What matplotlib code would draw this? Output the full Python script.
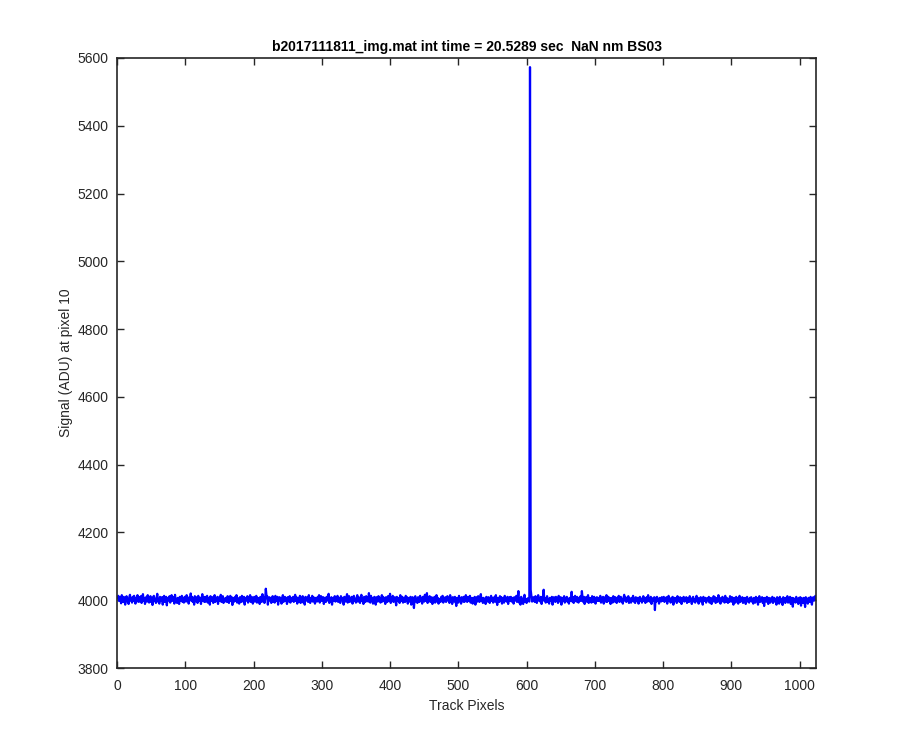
import numpy as np
import matplotlib
matplotlib.use("Agg")
import matplotlib.pyplot as plt

plt.rcParams['font.family'] = ['Liberation Sans', 'DejaVu Sans']

baseline = 4001
offsets_txt = """
5 12 -3 8 2 -10 14 3 -6 9 0 -14 6 11 -5 3 -12 8 15 -2 5 -8 9 -3 12 2 -11 6 -5 14 3 -6
8 -2 11 -9 5 17 -3 6 -12 2 9 -5 14 0 -8 3 11 -6 5 -15 8 12 -2 3 -9 6 18 -5 2 -11 9 0
-3 8 -14 5 12 -6 2 9 -16 3 6 -2 11 -8 5 14 -3 0 8 -11 15 -5 3 -9 6 2 -12 9 5 -3 12 -6
2 -8 9 3 -5 14 -2 6 -11 8 0 19 -3 9 -6 5 -14 11 2 -5 8 -9 12 3 -2 6 -12 5 17 -3 8 -6
9 -5 3 12 -8 2 6 -14 11 0 -3 8 -9 5 14 -6 3 -2 9 -12 5 8 -3 15 -6 2 11 -9 3 -5 6 0
-6 11 2 -9 5 12 -3 8 -15 6 3 -5 9 -2 14 -8 5 0 -11 8 3 -6 12 2 -5 9 -14 6 3 -2 11 -8
5 -3 14 -6 2 8 -11 3 9 -5 0 12 -8 6 -2 5 -12 9 3 -6 17 -3 8 -9 2 33 12 11 -14 3 8 -2
6 -9 3 11 -5 2 -8 12 5 -3 9 -14 3 8 -2 6 -11 5 14 -6 0 9 -3 5 -12 8 2 -5 11 -8 3 6
-2 9 -6 5 15 -3 8 -11 2 6 -5 12 -9 3 0 11 -8 5 -14 9 3 -2 8 -6 14 2 -9 5 -3 12 -5 8
3 -11 6 2 -5 9 -2 14 -8 5 11 -3 0 8 -12 6 3 -6 9 -2 5 18 -9 3 -5 8 -14 2 6 -3 11 -5
8 -3 12 -6 2 5 -9 11 3 -2 6 -14 9 0 -5 8 17 -8 3 11 -6 2 -3 9 -11 5 12 -2 3 -8 6 14
-5 8 2 -9 6 15 -3 5 -12 9 3 -6 11 -2 8 -5 20 3 -8 12 -3 6 -11 5 9 -2 -14 8 3 -5 11 0
6 -8 3 14 -5 9 -2 5 -12 8 2 -6 11 -3 6 18 -9 5 -2 12 -6 3 8 -5 -16 9 2 -3 6 -9 14 3
-3 9 -8 5 2 -6 12 -2 8 -11 3 6 -5 9 -14 2 8 -3 -24 6 11 -5 3 -9 8 2 -6 12 -3 5 -11 9
3 -5 15 -2 6 20 -9 5 -3 11 -6 2 8 -12 5 -2 9 -8 3 14 -5 6 -11 3 2 -6 9 -3 12 -8 5 0
8 -6 3 11 -2 5 -9 14 -3 6 -12 8 2 -5 9 -2 -18 6 3 -8 12 -3 5 -11 8 2 -5 9 -6 3 14 -2
-6 9 5 -3 12 -8 2 6 -11 5 -2 9 -14 3 8 -5 11 0 -6 8 17 -3 5 -9 6 -2 3 -12 9 2 -5 8
5 -9 3 12 -3 6 -8 2 9 -5 14 -2 -15 6 3 -6 11 -3 8 -11 5 2 -8 12 -2 6 -5 9 -12 3 8 -3
9 -5 2 6 -11 8 3 -2 12 -6 5 26 -8 3 -14 9 2 -5 -12 8 15 -6 3 -9 0 5 -3 -5 1572 30 12 -5
-3 8 2 -6 11 5 -9 3 14 -2 6 -5 9 -12 3 8 30 -3 5 -8 2 11 -6 3 -11 6 2 -3 9 -14 5 8
3 -6 9 -2 5 -9 12 2 -5 8 -14 3 6 -3 11 -8 5 0 9 -6 3 -11 6 2 -3 24 -5 8 -9 3 12 -2
-5 9 3 -8 6 -2 11 -3 26 5 -6 9 -12 2 8 -5 3 14 -9 6 -2 5 -8 11 3 -6 9 -2 -11 5 8 -3
6 -3 2 12 -8 5 -2 9 -11 3 8 -5 14 -6 2 9 -3 5 -12 6 3 -8 11 0 -5 8 2 -9 6 -3 12 -6
2 9 -5 3 -11 6 15 -2 8 -6 3 -3 11 -9 5 2 -8 6 -2 12 -5 3 -9 8 2 -3 6 -11 5 9 -2 3
-8 5 11 -3 6 -9 2 8 -5 14 -2 3 -6 9 -12 5 2 -3 8 -30 6 -5 9 -2 3 -11 6 2 -5 8 -3 5
9 -6 3 -2 8 -11 5 12 -3 2 -8 6 -5 9 -14 3 6 -2 5 -9 11 -3 2 -6 8 3 -12 5 -2 9 -5 6
-3 8 -9 5 2 -6 11 -2 3 -12 6 9 -5 2 -8 5 12 -3 6 -11 3 -2 8 -6 5 -14 9 2 -3 6 -8 3
5 -2 9 -8 3 6 -12 2 -5 11 -3 8 -9 5 2 -6 14 -2 3 -11 6 -5 9 -3 2 -8 12 -6 3 5 -9 2
-6 11 3 -5 8 -2 -14 6 2 -8 9 -3 5 -11 3 12 -6 2 -3 8 -9 5 -2 6 -12 3 9 -5 2 -8 6 -3
8 -5 2 -11 6 3 -8 9 -2 5 -14 3 11 -6 2 -3 8 -9 5 -18 6 2 -5 9 -3 -12 6 3 -8 5 -2 9
-9 3 6 -5 2 -14 8 -3 5 -11 9 2 -6 3 -15 8 -2 5 -9 6 -3 11 -8 2 -5 9 -12 3 6 -20 5 -2
3 -8 9 -5 2 -12 6 -3 8 -17 5 2 -9 6 -3 -21 8 -5 3 -11 6 2 -6 9 -3 -14 5 8 -2 3 12 5
"""
offsets = [int(v) for v in offsets_txt.split()]
signal = np.array(offsets) + baseline
pixels = np.arange(1, len(signal) + 1)

title = 'b2017111811_img.mat int time = 20.5289 sec  NaN nm BS03'
xticks = list(range(0, 1001, 100))
yticks = list(range(3800, 5601, 200))

fig = plt.figure(figsize=(9, 7.5), dpi=100)
ax = fig.add_axes([0.13, 0.1093, 0.7767, 0.8134])
ax.plot(pixels, signal, color='#0000ff', linewidth=1.6)

ax.set_xlim(0, 1024)
ax.set_ylim(3800, 5600)
ax.set_xticks(xticks)
ax.set_yticks(yticks)
ax.tick_params(direction='in', top=True, right=True, length=5, width=1,
               labelsize=10, colors='#262626', labelcolor='#262626', pad=6)
ax.tick_params(axis='x', pad=8)
for sp in ax.spines.values():
    sp.set_linewidth(1.2)
    sp.set_color('#262626')

ax.set_xlabel('Track Pixels', fontsize=10, color='#262626', labelpad=4)
ax.set_ylabel('Signal (ADU) at pixel 10', fontsize=10, color='#262626', labelpad=3)
ax.set_title(title, fontsize=10, fontweight='bold', pad=5)

fig.savefig('out.png', dpi=100)
